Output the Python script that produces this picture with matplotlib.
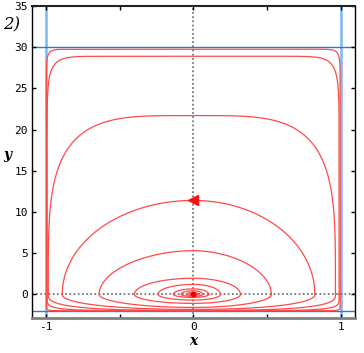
import numpy as np
import matplotlib.pyplot as plt
from matplotlib.ticker import FixedLocator, FixedFormatter

# closed orbits, inner -> outer, extents
orbit_left = [-0.027, -0.048, -0.084, -0.136, -0.24, -0.40, -0.64, -0.89, -0.985, -0.993, -0.998]
orbit_right = [0.02, 0.034, 0.064, 0.105, 0.185, 0.32, 0.53, 0.825, 0.965, 0.99, 0.997]
orbit_top = [0.13, 0.23, 0.43, 0.66, 1.2, 1.95, 5.3, 11.4, 21.7, 28.9, 29.75]
orbit_bottom = [-0.075, -0.13, -0.25, -0.38, -0.7, -1.1, -1.59, -1.83, -1.95, -1.98, -1.995]
# squareness of the upper / lower half of each orbit
orbit_p_up = [2, 2, 2, 2, 2, 2, 1.9, 2, 4, 16, 40]
orbit_p_down = [2, 2, 2, 2, 2, 2, 2, 2.2, 3, 6, 25]

walls_x = [-1, 1]
walls_y = [-2, 30]
arrow_xy = (0.0, 11.4)

x_ticks = [-1, -0.5, 0, 0.5, 1]
x_labels = ['-1', '', '0', '', '1']
y_ticks = [0, 5, 10, 15, 20, 25, 30, 35]

fig = plt.figure(figsize=(3.64, 3.53), dpi=100)
ax = fig.add_axes([0.088, 0.099, 0.887, 0.884])

# invariant lines
for xv in walls_x:
    ax.axvline(xv, color='#7ab8f5', lw=1.8, zorder=1)
for yv in walls_y:
    ax.axhline(yv, color='#2a7ad6', lw=1.0, zorder=1)

# dotted axes
ax.axhline(0, color='#666666', lw=1.2, ls=(0, (1, 1.5)), zorder=1)
ax.axvline(0, color='#666666', lw=1.2, ls=(0, (1, 1.5)), zorder=1)

# orbits, one superellipse per quadrant
t = np.linspace(0, 2 * np.pi, 4001)
c, s = np.cos(t), np.sin(t)
for i in range(len(orbit_top)):
    a = np.where(c >= 0, orbit_right[i], -orbit_left[i])
    b = np.where(s >= 0, orbit_top[i], -orbit_bottom[i])
    p = np.where(s >= 0, orbit_p_up[i], orbit_p_down[i])
    xs = a * np.sign(c) * np.abs(c) ** (2 / p)
    ys = b * np.sign(s) * np.abs(s) ** (2 / p)
    ax.plot(xs, ys, color='#ff4a4a', lw=0.9, zorder=2)

ax.plot(0, 0, 'o', color='#ee0000', ms=3, zorder=3)
ax.plot(*arrow_xy, marker='<', color='#ff1010', ms=7, zorder=3)

ax.set_xlim(-1.095, 1.097)
ax.set_ylim(-2.88, 35)

ax.xaxis.set_major_locator(FixedLocator(x_ticks))
ax.xaxis.set_major_formatter(FixedFormatter(x_labels))
ax.set_yticks(y_ticks)
ax.tick_params(direction='in', length=3, width=1, top=True, right=True,
               labelsize=8, pad=3)
for lab in ax.get_xticklabels() + ax.get_yticklabels():
    lab.set_family('DejaVu Sans Mono')

ax.spines['bottom'].set_color('#808080')
ax.spines['bottom'].set_linewidth(2)
ax.spines['top'].set_color('#222222')
ax.spines['top'].set_linewidth(1.5)
ax.spines['left'].set_linewidth(1)
ax.spines['right'].set_linewidth(1)

ax.set_xlabel('x', family='DejaVu Serif', style='italic', weight='bold',
              fontsize=10, labelpad=1)
ax.set_ylabel('y', family='DejaVu Serif', style='italic', weight='bold',
              fontsize=10, rotation=0, labelpad=5)
fig.text(0.008, 0.918, '2)', family='DejaVu Serif', style='italic', fontsize=12)

fig.savefig('out.png', dpi=100)
